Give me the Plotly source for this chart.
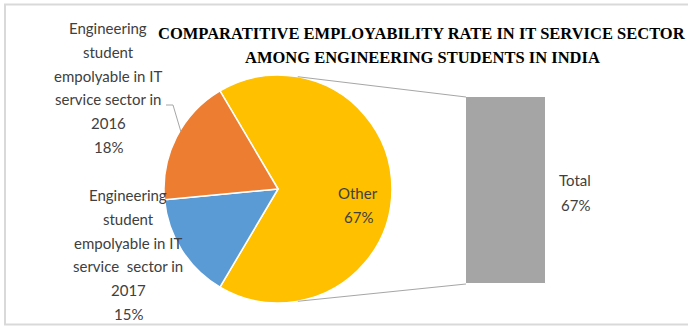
import math
import plotly.graph_objects as go

W, H = 688, 327

# ---------------- data ----------------
slice_names = [
    "Other",
    "Engineering student empolyable in IT service sector in 2017",
    "Engineering student empolyable in IT service sector in 2016",
]
slice_values = [67, 15, 18]
slice_colors = ["#FFC000", "#5B9BD5", "#ED7D31"]

bar_categories = ["Total"]
bar_values = [67]

label_lines_2016 = ["Engineering", "student", "empolyable in IT", "service sector in", "2016"]
label_lines_2017 = ["Engineering", "student", "empolyable in IT", "service  sector in", "2017"]
label_lines_other = ["Other"]
label_lines_total = ["Total"]

title_lines = [
    "COMPARATITIVE EMPLOYABILITY RATE IN IT SERVICE SECTOR",
    "AMONG ENGINEERING STUDENTS IN INDIA",
]

# ---------------- layout helpers ----------------
def px(x):
    return x / W

def py(y):
    return 1 - y / H

CX, CY, R = 278, 189, 114
total = sum(slice_values)
rotation = 90 - 360 * slice_values[0] / total / 2

fig = go.Figure()

fig.add_trace(go.Pie(
    labels=slice_names,
    values=slice_values,
    sort=False,
    direction="clockwise",
    rotation=rotation,
    marker=dict(colors=slice_colors, line=dict(color="white", width=1.5)),
    textinfo="none",
    hoverinfo="label+percent",
    showlegend=False,
    domain=dict(x=[px(CX - R), px(CX + R)], y=[py(CY + R), py(CY - R)]),
))

BX0, BX1, BY0, BY1 = 466, 546, 97, 284
fig.add_trace(go.Bar(
    x=bar_categories,
    y=bar_values,
    marker=dict(color="#A5A5A5", line=dict(color="white", width=1)),
    xaxis="x2",
    yaxis="y2",
    showlegend=False,
    hoverinfo="x+y",
))

label_font = dict(family="Lato", size=15, color="#404040")
annotations = []

def add_block(lines, xc, ytop, step=23.8):
    for i, t in enumerate(lines):
        annotations.append(dict(
            x=px(xc), y=py(ytop + i * step), xref="paper", yref="paper",
            text=t, showarrow=False, xanchor="center", yanchor="middle",
            font=label_font,
        ))

pct = {n: f"{round(100 * v / total)}%" for n, v in zip(slice_names, slice_values)}
add_block(label_lines_2016 + [pct[slice_names[2]]], 108, 28)
add_block(label_lines_2017 + [pct[slice_names[1]]], 128, 195)
add_block(label_lines_other + [pct[slice_names[0]]], 358, 193)
add_block(label_lines_total + [f"{bar_values[0]}%"], 575, 180, step=25)

for i, t in enumerate(title_lines):
    annotations.append(dict(
        x=px(422), y=py(33 + i * 25), xref="paper", yref="paper",
        text=t, showarrow=False, xanchor="center", yanchor="middle",
        font=dict(family="Liberation Serif", size=16.5, color="black", weight="bold"),
    ))

# connector lines (pie -> bar)
ang = math.radians(80)
top_pt = (CX + R * math.cos(ang), CY - R * math.sin(ang))
bot_pt = (CX + R * math.cos(ang), CY + R * math.sin(ang))
shapes = [
    dict(type="line", xref="paper", yref="paper",
         x0=px(top_pt[0]), y0=py(top_pt[1]), x1=px(BX0), y1=py(BY0),
         line=dict(color="#A6A6A6", width=1)),
    dict(type="line", xref="paper", yref="paper",
         x0=px(bot_pt[0]), y0=py(bot_pt[1]), x1=px(BX0), y1=py(BY1),
         line=dict(color="#A6A6A6", width=1)),
    # leader line for 2016 label
    dict(type="path", xref="paper", yref="paper",
         path=f"M {px(166)} {py(105)} L {px(173)} {py(105)} L {px(181)} {py(132)}",
         line=dict(color="#A6A6A6", width=1)),
    # chart border
    dict(type="rect", xref="paper", yref="paper",
         x0=px(5), x1=px(W + 10), y0=py(324.5), y1=py(4.5),
         line=dict(color="#D9D9D9", width=2), fillcolor="rgba(0,0,0,0)"),
]

fig.update_layout(
    width=W, height=H,
    margin=dict(l=0, r=0, t=0, b=0),
    paper_bgcolor="white",
    plot_bgcolor="white",
    bargap=0,
    xaxis2=dict(domain=[px(BX0), px(BX1)], anchor="y2", visible=False,
                type="category", range=[-0.5, 0.5]),
    yaxis2=dict(domain=[py(BY1), py(BY0)], anchor="x2", visible=False,
                range=[0, bar_values[0]]),
    annotations=annotations,
    shapes=shapes,
)

fig.write_html("out.html")
